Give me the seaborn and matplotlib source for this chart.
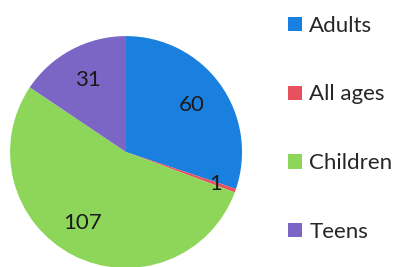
import numpy as np
import matplotlib
matplotlib.use('Agg')
import matplotlib.pyplot as plt
import seaborn as sns

# Audience breakdown
groups = ['Adults', 'All ages', 'Children', 'Teens']
counts = [60, 1, 107, 31]
colors = sns.color_palette(['#1a80e0', '#e8505e', '#8ed65a', '#7b66c6'])

sns.set_style('white')
plt.rcParams['font.family'] = ['Lato', 'DejaVu Sans']

fig = plt.figure(figsize=(4.02, 2.67), dpi=100)
ax = fig.add_axes([0.025, -0.004, 0.577, 0.869])

wedges, _ = ax.pie(counts, colors=colors, startangle=90, counterclock=False,
                   wedgeprops=dict(linewidth=0))
ax.set_xlim(-1, 1)
ax.set_ylim(-1, 1)
ax.set_aspect('equal')

# value labels inside slices
for w, n in zip(wedges, counts):
    mid = np.deg2rad((w.theta1 + w.theta2) / 2)
    if n < 5:
        r = 0.82
    elif n > 100:
        r, mid = 0.72, mid - 0.08
    else:
        r = 0.7
    ax.text(r * np.cos(mid), r * np.sin(mid), str(n), ha='center', va='center',
            fontsize=16, color='#1a1a1a')

fig.legend(wedges, groups, loc='upper left', bbox_to_anchor=(0.695, 0.975),
           frameon=False, fontsize=16, handlelength=0.6, handleheight=0.6,
           handletextpad=0.35, labelspacing=2.2, borderaxespad=0)

fig.savefig('out.png', dpi=100)
